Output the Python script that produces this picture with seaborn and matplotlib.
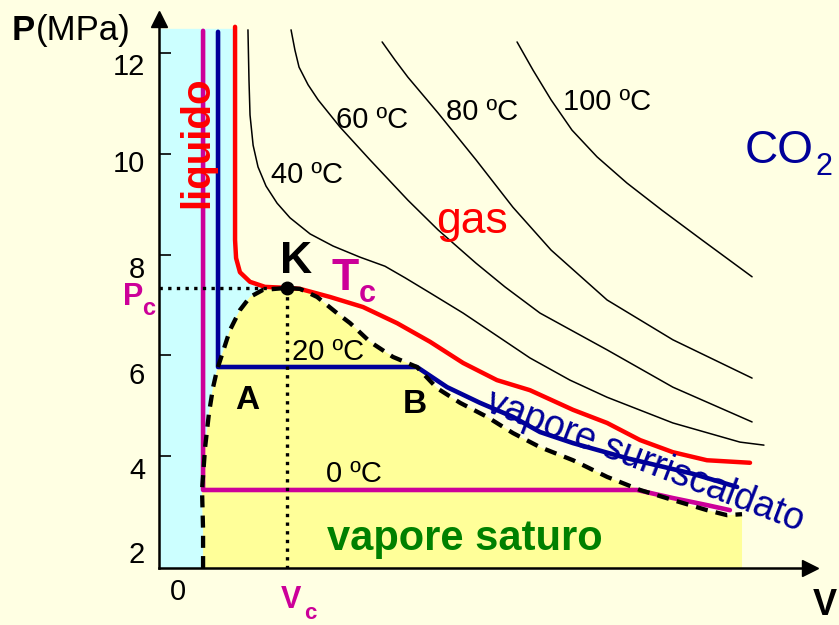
import matplotlib
matplotlib.use("Agg")
import matplotlib.pyplot as plt
import seaborn as sns

# --- dati letti dal diagramma (V in unità arbitrarie, P in MPa) ---
# curva limite, ramo del liquido (dal basso fino al punto critico K)
v_liquido = [0.132, 0.132, 0.128, 0.140, 0.155, 0.171, 0.186, 0.205, 0.236, 0.275, 0.314, 0.364, 0.457]
p_liquido = [1.78, 2.54, 3.33, 4.18, 4.86, 5.37, 5.71, 6.01, 6.50, 6.90, 7.16, 7.30, 7.34]
# curva limite, ramo del vapore (da K verso destra)
v_vapore = [0.457, 0.508, 0.574, 0.651, 0.702, 0.779, 0.868, 0.961, 1.039, 1.128, 1.233, 1.333,
            1.438, 1.566, 1.698, 1.826, 1.953, 2.085, 2.163, 2.221]
p_vapore = [7.34, 7.32, 7.16, 6.84, 6.64, 6.27, 5.97, 5.77, 5.35, 5.06, 4.78, 4.46,
            4.18, 3.92, 3.59, 3.33, 3.13, 2.93, 2.83, 2.85]

# isoterma critica (Tc)
v_tc = [0.256, 0.256, 0.260, 0.275, 0.314, 0.372, 0.457, 0.508, 0.624, 0.752, 0.884, 1.012,
        1.140, 1.271, 1.399, 1.566, 1.698, 1.826, 1.953, 2.085, 2.252]
p_tc = [12.52, 8.29, 7.93, 7.65, 7.46, 7.36, 7.34, 7.32, 7.16, 6.96, 6.64, 6.27,
        5.85, 5.51, 5.31, 4.92, 4.66, 4.32, 4.08, 3.92, 3.87]
# isoterma 20 ºC
v_20 = [0.190, 0.190, 0.961, 1.078, 1.205, 1.333, 1.438, 1.566, 1.775, 2.031, 2.202]
p_20 = [12.42, 5.77, 5.77, 5.37, 5.06, 4.78, 4.48, 4.26, 3.96, 3.65, 3.39]
# isoterma 0 ºC
v_0 = [0.132, 0.132, 1.814, 1.953, 2.085, 2.174]
p_0 = [12.44, 3.33, 3.33, 3.17, 3.03, 2.93]
# isoterme sopra la critica
v_40 = [0.306, 0.310, 0.314, 0.326, 0.345, 0.376, 0.419, 0.469, 0.547, 0.636, 0.740, 0.837,
        0.915, 1.012, 1.140, 1.271, 1.399, 1.554, 1.698, 1.953, 2.213, 2.306]
p_40 = [12.46, 11.46, 10.77, 10.17, 9.74, 9.36, 9.02, 8.73, 8.41, 8.17, 7.95, 7.77,
        7.54, 7.24, 6.84, 6.39, 5.95, 5.51, 5.17, 4.66, 4.28, 4.22]
v_60 = [0.473, 0.488, 0.504, 0.539, 0.578, 0.663, 0.779, 0.926, 1.043, 1.190, 1.302, 1.438,
        1.698, 1.953, 2.260]
p_60 = [12.46, 12.06, 11.72, 11.37, 11.07, 10.53, 9.88, 9.08, 8.49, 7.83, 7.36, 6.84,
        6.11, 5.37, 4.68]
v_80 = [0.826, 0.876, 0.926, 1.043, 1.190, 1.333, 1.481, 1.698, 1.953, 2.260]
p_80 = [12.22, 11.86, 11.52, 10.81, 9.88, 8.94, 8.09, 7.10, 6.31, 5.55]
v_100 = [1.349, 1.411, 1.481, 1.562, 1.659, 1.775, 1.911, 2.066, 2.260]
p_100 = [12.22, 11.66, 11.07, 10.47, 9.94, 9.42, 8.88, 8.29, 7.56]

cyan_top = 12.48  # limite superiore della zona del liquido

y_ticks = [2, 4, 6, 8, 10, 12]
y_tick_labels = ['2', '4', '6', '8', '10', '12']
x_ticks = [1, 2]
iso_labels = ['0 ºC', '20 ºC', '40 ºC', '60 ºC', '80 ºC', '100 ºC']

# colori
BG = '#FFFFE3'
CIANO = '#CCFFFF'
GIALLO = '#FFFF99'
ROSSO = '#FF0000'
BLU = '#000099'
MAGENTA = '#CC0099'
VERDE = '#008000'

sns.set_theme(style='white', rc={'axes.facecolor': BG, 'figure.facecolor': BG})
plt.rcParams['font.family'] = ['Liberation Sans', 'DejaVu Sans']
plt.rcParams['text.color'] = 'black'

fig = plt.figure(figsize=(8.39, 6.25), dpi=100)
ax = fig.add_axes([159 / 839, 57 / 625, 651 / 839, 549 / 625])
XMIN, XMAX = -0.0388, 2.4845
YMIN, YMAX = 1.782, 12.675
ax.set_xlim(XMIN, XMAX)
ax.set_ylim(YMIN, YMAX)

kv, kp = v_liquido[-1], p_liquido[-1]

# zona del liquido (azzurra)
rosso_k = [(v, p) for v, p in zip(v_tc[1:], p_tc[1:]) if v <= kv]
cv = [XMIN, v_tc[0]] + [v for v, p in rosso_k] + v_liquido[::-1] + [XMIN]
cp = [cyan_top, cyan_top] + [p for v, p in rosso_k] + p_liquido[::-1] + [YMIN]
ax.fill(cv, cp, color=CIANO, lw=0, zorder=0.5)

# campana (gialla)
gv = v_liquido + v_vapore[1:] + [v_vapore[-1], v_liquido[0]]
gp = p_liquido + p_vapore[1:] + [YMIN, YMIN]
ax.fill(gv, gp, color=GIALLO, lw=0, zorder=0.6)

# isoterme nere
for v, p in [(v_40, p_40), (v_60, p_60), (v_80, p_80), (v_100, p_100)]:
    sns.lineplot(x=v, y=p, sort=False, estimator=None, color='black', lw=1.1, ax=ax, zorder=2)

sns.lineplot(x=v_tc, y=p_tc, sort=False, estimator=None, color=ROSSO, lw=3.2, ax=ax, zorder=3)
sns.lineplot(x=v_20, y=p_20, sort=False, estimator=None, color=BLU, lw=3.3, ax=ax, zorder=3)
sns.lineplot(x=v_0, y=p_0, sort=False, estimator=None, color=MAGENTA, lw=3.3, ax=ax, zorder=3)

# curva limite tratteggiata
ax.plot(v_liquido + v_vapore[1:], p_liquido + p_vapore[1:], color='black', lw=3.1,
        linestyle=(0, (2.8, 1.9)), zorder=4)

# Pc e Vc
ax.plot([XMIN, kv], [kp, kp], color='black', lw=2.4, linestyle=(0, (1, 1.6)), zorder=4, clip_on=False)
ax.plot([kv, kv], [kp, YMIN], color='black', lw=2.4, linestyle=(0, (1, 1.6)), zorder=4)
ax.plot(kv, kp, 'o', color='black', ms=9, zorder=5)

# assi con frecce
for s in ['top', 'right']:
    ax.spines[s].set_visible(False)
for s in ['left', 'bottom']:
    ax.spines[s].set_color('black')
    ax.spines[s].set_linewidth(1.8)
ax.plot(1, 0, '>', color='black', ms=12, transform=ax.transAxes, clip_on=False)
ax.plot(0, 1, '^', color='black', ms=12, transform=ax.transAxes, clip_on=False)

ax.set_xticks(x_ticks)
ax.set_xticklabels([])
ax.set_yticks(y_ticks[1:])
ax.set_yticklabels([])
ax.tick_params(axis='both', direction='in', length=8.6, width=1.2, color='black',
               bottom=True, left=True)
ax.grid(False)

pt = 72 / 100
y_off_px = [6, 23, 29, 23, 18, 22]
for val, lab, off in zip(y_ticks, y_tick_labels, y_off_px):
    ax.annotate(lab, xy=(0, val), xycoords=('axes fraction', 'data'),
                xytext=(-14 * pt, -off * pt), textcoords='offset points',
                ha='right', va='baseline', fontsize=21, color='black')
ax.text(0.035, 1.147, '0', ha='center', va='baseline', fontsize=21)

# etichette degli assi
ax.text(-0.609, 12.258, 'P', ha='left', va='baseline', fontsize=25, fontweight='bold')
ax.text(-0.516, 12.258, '(MPa)', ha='left', va='baseline', fontsize=25)
ax.text(2.496, 0.849, 'V', ha='left', va='baseline', fontsize=26, fontweight='bold')

# Pc, Vc
ax.text(-0.141, 7.00, 'P', ha='center', va='baseline', fontsize=22, fontweight='bold', color=MAGENTA)
ax.text(-0.0775, 6.80, 'c', ha='center', va='baseline', fontsize=17, fontweight='bold', color=MAGENTA)
ax.text(0.473, 0.99, 'V', ha='center', va='baseline', fontsize=22, fontweight='bold', color=MAGENTA)
ax.text(0.547, 0.67, 'c', ha='center', va='bottom', fontsize=16, fontweight='bold', color=MAGENTA)

# etichette delle isoterme
iso_pos = [(0.717, 3.49), (0.616, 5.91), (0.535, 9.42), (0.787, 10.51), (1.213, 10.67), (1.698, 10.87)]
for lab, (x, y) in zip(iso_labels, iso_pos):
    ax.text(x, y, lab, ha='center', va='baseline', fontsize=21, zorder=6)

ax.text(0.492, 7.63, 'K', ha='center', va='baseline', fontsize=32, fontweight='bold', zorder=6)
ax.text(0.682, 7.30, 'T', ha='center', va='baseline', fontsize=32, fontweight='bold', color=MAGENTA, zorder=6)
ax.text(0.769, 7.06, 'c', ha='center', va='baseline', fontsize=22, fontweight='bold', color=MAGENTA, zorder=6)
ax.text(0.302, 4.94, 'A', ha='center', va='baseline', fontsize=24, fontweight='bold', zorder=6)
ax.text(0.953, 4.86, 'B', ha='center', va='baseline', fontsize=24, fontweight='bold', zorder=6)

ax.text(0.1085, 10.23, 'liquido', rotation=90, ha='center', va='center', fontsize=29,
        fontweight='bold', color=ROSSO, zorder=6)
ax.text(1.174, 8.43, 'gas', ha='center', va='baseline', fontsize=32, color=ROSSO, zorder=6)
ax.text(2.233, 9.82, 'CO', ha='left', va='baseline', fontsize=33, color=BLU, zorder=6)
ax.text(2.504, 9.58, '2', ha='left', va='baseline', fontsize=22, color=BLU, zorder=6)
ax.text(1.147, 2.14, 'vapore saturo', ha='center', va='baseline', fontsize=30,
        fontweight='bold', color=VERDE, zorder=6)
ax.text(1.845, 3.885, 'vapore surriscaldato', rotation=-21, rotation_mode='anchor',
        ha='center', va='center', fontsize=27, color=BLU, zorder=6)

fig.savefig('out.png', dpi=100, facecolor=BG)
